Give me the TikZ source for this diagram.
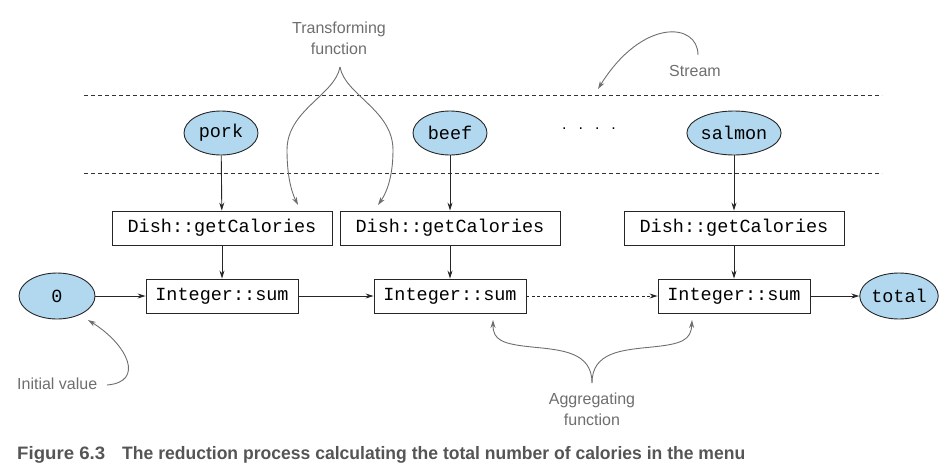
\documentclass[tikz,border=0pt]{standalone}
\usepackage{fontspec}
\usepackage{graphicx}
\setmainfont{Liberation Sans}
\newfontfamily\monof{Liberation Mono}
\usetikzlibrary{arrows.meta,shapes.geometric}
\definecolor{ellfill}{RGB}{178,216,240}
\definecolor{annot}{RGB}{110,110,110}
\definecolor{capgray}{RGB}{85,85,85}
\tikzset{
  ell/.style={ellipse,draw=black!85,line width=0.9pt,fill=ellfill,minimum width=74pt,minimum height=44pt,inner sep=0pt,font=\monof\fontsize{18.5}{20}\selectfont},
  fbox/.style={rectangle,draw=black!85,line width=0.9pt,minimum height=34pt,inner sep=0pt,font=\monof\fontsize{18.5}{20}\selectfont},
  arr/.style={-{Stealth[length=8pt,width=5pt]},line width=0.9pt,black!85},
  garr/.style={-{Stealth[length=8pt,width=5pt]},line width=0.9pt,annot},
  lbl/.style={font=\fontsize{16}{21}\selectfont,text=annot,align=center,inner sep=0pt},
  sep/.style={line width=0.9pt,black!80,dash pattern=on 4pt off 3pt}
}
\begin{document}
\begin{tikzpicture}[x=1pt,y=-1pt]
\useasboundingbox (0,0) rectangle (951,472);
% stream separators
\coordinate (l1a) at (84,95); \coordinate (l1b) at (882,95);
\coordinate (l2a) at (84,173); \coordinate (l2b) at (882,173);
\draw[sep] (l1a) -- (l1b);
\draw[sep] (l2a) -- (l2b);
% stream elements
\node[ell] (pork) at (221,133) {pork};
\node[ell] (beef) at (450,133) {beef};
\node[ell] (salmon) at (734,133) {salmon};
\node[font=\fontsize{16}{18}\selectfont] (dots) at (589,129) {.\hspace{12pt}.\hspace{12pt}.\hspace{12pt}.};
% mapping boxes
\node[fbox,minimum width=220pt] (d1) at (222,228) {Dish::getCalories};
\node[fbox,minimum width=220pt] (d2) at (450,228) {Dish::getCalories};
\node[fbox,minimum width=220pt] (d3) at (734,228) {Dish::getCalories};
% sum boxes
\node[fbox,minimum width=152pt] (s1) at (222,296) {Integer::sum};
\node[fbox,minimum width=152pt] (s2) at (450,296) {Integer::sum};
\node[fbox,minimum width=152pt] (s3) at (734,296) {Integer::sum};
\node[ell,minimum width=76pt,minimum height=46pt] (zero) at (57,296) {0};
\node[ell,minimum width=76pt,minimum height=46pt] (total) at (899,296) {total};
% connectors
\draw[arr] (pork) -- (d1);
\draw[arr] (beef) -- (d2);
\draw[arr] (salmon) -- (d3);
\draw[arr] (d1) -- (s1);
\draw[arr] (d2) -- (s2);
\draw[arr] (d3) -- (s3);
\draw[arr] (zero) -- (s1);
\draw[arr] (s1) -- (s2);
\draw[arr,dash pattern=on 3pt off 2.5pt] (s2) -- (s3);
\draw[arr] (s3) -- (total);
% annotations
\node[lbl] (tf) at (339,38) {Transforming\\function};
\coordinate (tfs) at (340,67);
\coordinate (tfl) at (298,205);
\coordinate (tfr) at (378,205);
\draw[garr] (tfs) .. controls (335,95) and (287,110) .. (287,150) .. controls (287,180) and (293,195) .. (tfl);
\draw[garr] (tfs) .. controls (345,95) and (393,110) .. (393,150) .. controls (393,180) and (385,195) .. (tfr);
\node[lbl] (st) at (695,71) {Stream};
\coordinate (sts) at (698,55);
\coordinate (ste) at (598,89);
\draw[garr] (sts) .. controls (698,22) and (642,18) .. (ste);
\node[lbl,anchor=west] (iv) at (17,384) {Initial value};
\coordinate (ivs) at (107,385);
\coordinate (ive) at (88,320);
\draw[garr] (ivs) .. controls (145,382) and (128,345) .. (ive);
\node[lbl] (ag) at (592,409) {Aggregating\\function};
\coordinate (ags) at (592,383);
\coordinate (agl) at (493,320);
\coordinate (agr) at (692,320);
\draw[garr] (ags) .. controls (592,352) and (562,350) .. (532,347) .. controls (502,344) and (493,340) .. (agl);
\draw[garr] (ags) .. controls (592,352) and (622,350) .. (652,347) .. controls (682,344) and (691,340) .. (agr);
% caption
\node[anchor=west,inner sep=0pt,text=capgray,font=\bfseries\fontsize{18}{20}\selectfont] (cap1) at (17,455) {\resizebox{88pt}{\height}{Figure 6.3}};
\node[anchor=west,inner sep=0pt,text=capgray,font=\bfseries\fontsize{18}{20}\selectfont] (cap2) at (122,455) {\resizebox{623pt}{\height}{The reduction process calculating the total number of calories in the menu}};
\end{tikzpicture}
\end{document}
